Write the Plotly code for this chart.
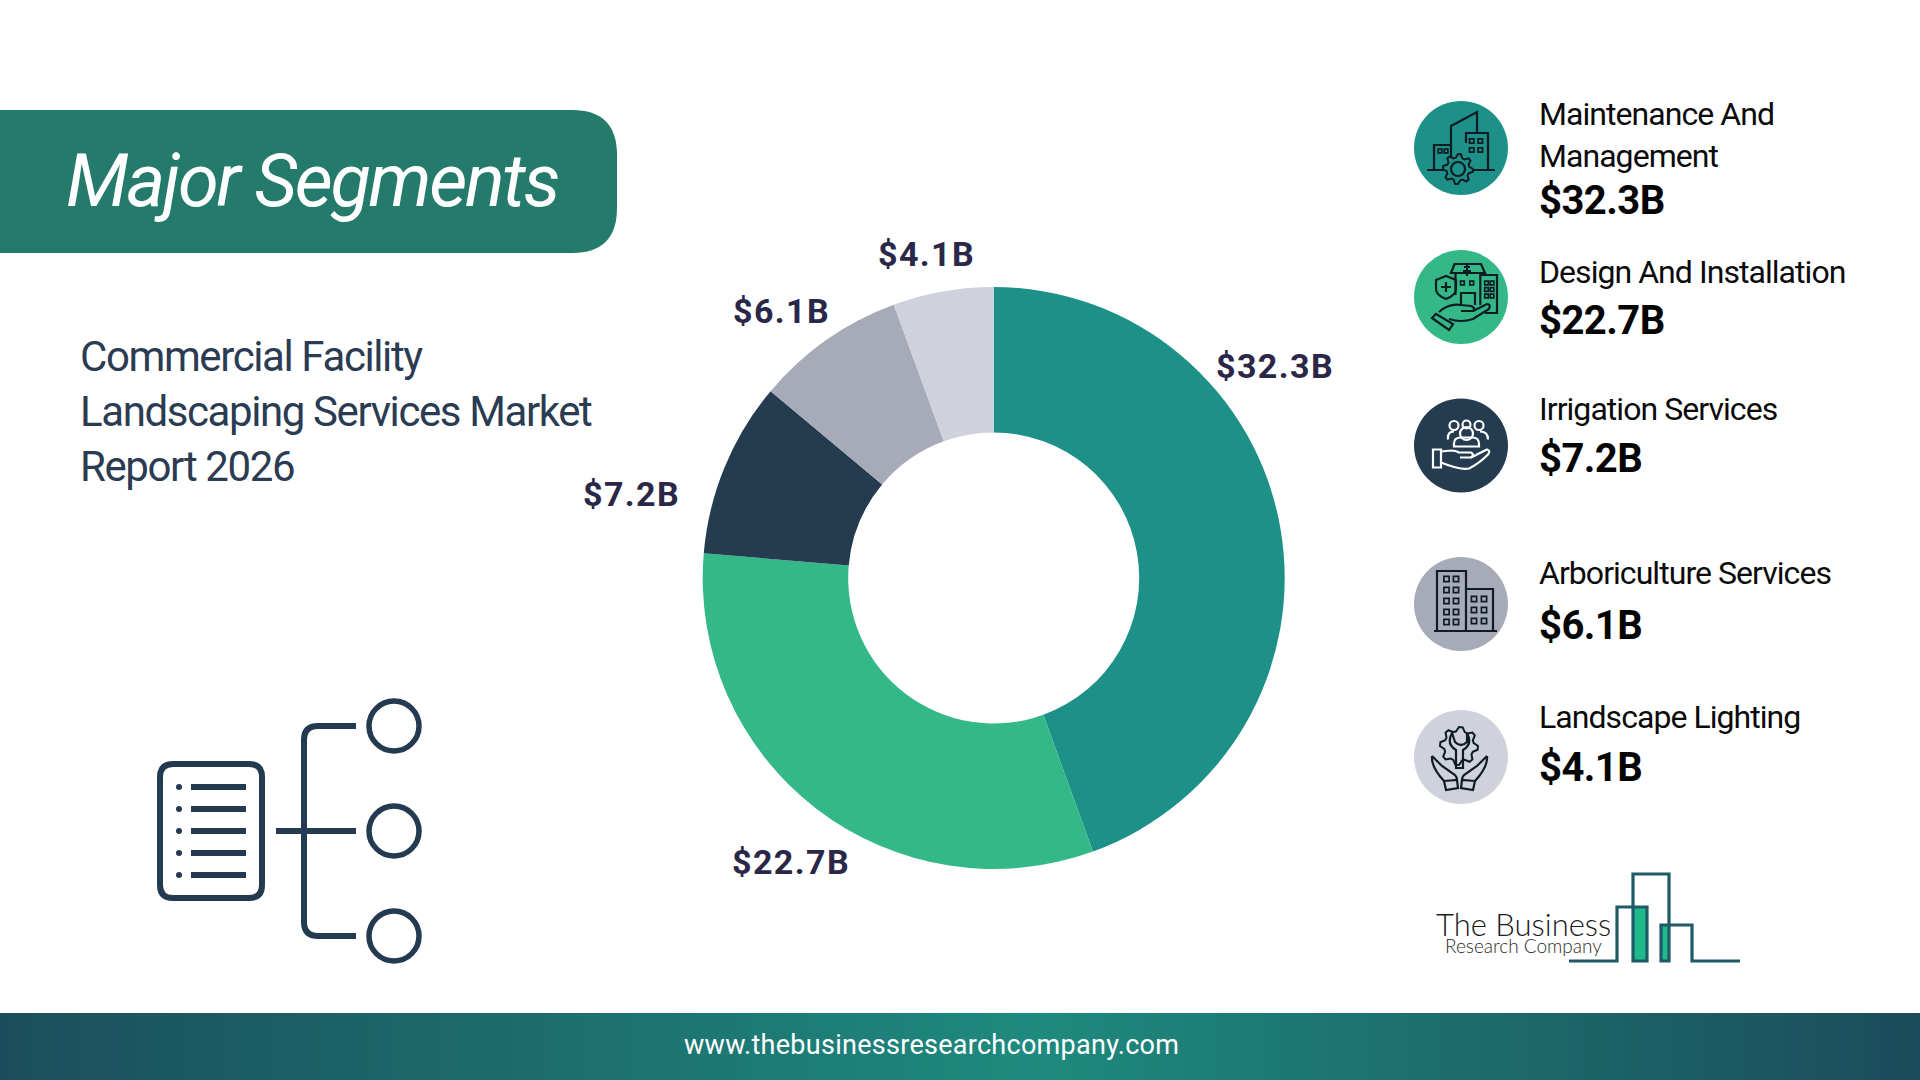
import math
import plotly.graph_objects as go

# Segment data
segments = ["Maintenance And<br>Management", "Design And Installation", "Irrigation Services",
            "Arboriculture Services", "Landscape Lighting"]
value_labels = ["$32.3B", "$22.7B", "$7.2B", "$6.1B", "$4.1B"]
# slice sizes, the drawn angles differ a little from the printed labels
slice_sizes = [32.2, 23.1, 7.05, 6.03, 4.04]
colors = ["#1d9087", "#34b888", "#243b50", "#a6abb7", "#cfd1dc"]

title_text = "Major Segments"
subtitle_lines = ["Commercial Facility", "Landscaping Services Market", "Report 2026"]
footer_text = "www.thebusinessresearchcompany.com"

NAVY = "#233a50"
INK = "#0f1c24"

shapes = []
annotations = []


def add_text(x, baseline, s, size, color, weight=400, spacing=0, anchor="left", style="normal", family="Roboto"):
    # y given as text baseline, in page pixels
    annotations.append(dict(
        x=x, y=baseline - 0.927 * size, xref="x", yref="y", xanchor=anchor, yanchor="top", align=anchor,
        text=f'<span style="letter-spacing:{spacing}px">{s}</span>', showarrow=False, borderpad=0,
        font=dict(family=family, size=size, color=color, weight=weight, style=style)))


def add_path(path, color, width=2.2, fill=None):
    shapes.append(dict(type="path", path=path, xref="x", yref="y", layer="above",
                       line=dict(color=color, width=width), fillcolor=fill or "rgba(0,0,0,0)"))


def add_circle(cx, cy, r, color=None, fill=None, width=2.2):
    shapes.append(dict(type="circle", x0=cx - r, x1=cx + r, y0=cy - r, y1=cy + r, xref="x", yref="y", layer="above",
                       line=dict(color=color or "rgba(0,0,0,0)", width=width if color else 0),
                       fillcolor=fill or "rgba(0,0,0,0)"))


def rrect(x0, y0, x1, y1, r):
    return (f"M{x0 + r},{y0} L{x1 - r},{y0} Q{x1},{y0} {x1},{y0 + r} L{x1},{y1 - r} Q{x1},{y1} {x1 - r},{y1} "
            f"L{x0 + r},{y1} Q{x0},{y1} {x0},{y1 - r} L{x0},{y0 + r} Q{x0},{y0} {x0 + r},{y0} Z")


def rel(cx, cy, cmds):
    # cmds like "M -3 4 L 5 6 Q 1 2 3 4", relative to a circle centre
    out = []
    nums = []
    for tok in cmds.split():
        if tok.isalpha():
            out.append(tok)
            nums = []
        else:
            nums.append(float(tok))
            if len(nums) == 2:
                out.append(f"{cx + nums[0]},{cy + nums[1]}")
                nums = []
    return " ".join(out)


def squares(cx, cy, xs, ys, s, color):
    for x in xs:
        for y in ys:
            add_path(rel(cx, cy, f"M {x - s} {y - s} L {x + s} {y - s} L {x + s} {y + s} L {x - s} {y + s} Z"), color, 1.7)


def gear(cx, cy, r_out, r_in, teeth, color, fill):
    pts = []
    for i in range(teeth * 4):
        a = 2 * math.pi * i / (teeth * 4)
        r = r_out if i % 4 in (0, 1) else r_in
        pts.append(f"{cx + r * math.cos(a)},{cy + r * math.sin(a)}")
    add_path("M" + " L".join(pts) + " Z", color, 2, fill)


# Banner and left-hand text
shapes.append(dict(type="path", xref="x", yref="y", layer="below", fillcolor="#247b6b", line=dict(width=0),
                   path="M0,110 L572,110 Q617,110 617,155 L617,208 Q617,253 572,253 L0,253 Z"))
add_text(65, 205, title_text, 74, "white", weight=400, spacing=-2.3, style="italic")
for line, base in zip(subtitle_lines, [370, 425, 480]):
    add_text(79, base, line, 42, "#2a3b52", weight=400, spacing=-1.4)

# Tree icon, lower left
add_path(rrect(160, 764, 262, 898, 13), NAVY, 6)
for y in [787, 809, 831, 853, 875]:
    add_circle(179, y, 3, fill=NAVY)
    shapes.append(dict(type="line", x0=191, x1=246, y0=y, y1=y, xref="x", yref="y", layer="above",
                       line=dict(color=NAVY, width=6)))
shapes.append(dict(type="line", x0=276, x1=356, y0=831, y1=831, xref="x", yref="y", layer="above",
                   line=dict(color=NAVY, width=6)))
add_path("M356,726 L318,726 Q304,726 304,740 L304,922 Q304,936 318,936 L356,936", NAVY, 6)
for y in [726, 831, 936]:
    add_circle(394, y, 25, color=NAVY, width=5.5)

# Donut value labels, placed by hand as in the original slide
label_pos = [(1275, 377), (791, 873), (631, 505), (781, 322), (926, 265)]
for lab, (x, base) in zip(value_labels, label_pos):
    add_text(x, base, lab, 34, "#2a2748", weight=700, spacing=1.4, anchor="center")

# Right-hand legend
circle_x = 1461
circle_y = [148, 297, 445.5, 604, 757]
name_base = [(124, 166), (282,), (419,), (583,), (727,)]
value_base = [213, 333, 471, 638, 780]
for i, seg in enumerate(segments):
    add_circle(circle_x, circle_y[i], 47, fill=colors[i])
    for part, base in zip(seg.split("<br>"), name_base[i]):
        add_text(1538, base, part, 32, "#0b0b0b", weight=400, spacing=-0.95)
    add_text(1538, value_base[i], value_labels[i], 40, "#050505", weight=700, spacing=-0.55)

# Icon 1: buildings with gear
cx, cy = circle_x, circle_y[0]
for p in ["M -34 22 L 34 22", "M -27 22 L -27 -3 L -10 -3", "M -10 12 L -10 -22 L 16 -36 L 16 -15",
          "M 5 -5 L 5 -15 L 27 -15 L 27 22"]:
    add_path(rel(cx, cy, p), INK)
squares(cx, cy, [-21, -15], [3], 1.8, INK)
squares(cx, cy, [10.7, 19.3], [-7, 2], 2.2, INK)
gear(cx - 3, cy + 21, 15, 11.5, 8, INK, colors[0])
add_circle(cx - 3, cy + 21, 7, color=INK)

# Icon 2: hospital on a hand
cx, cy = circle_x, circle_y[1]
for p in ["M -10 -24 L -6.5 -33 L 20 -33 L 24 -24 Z", "M -5.5 -24 L -5.5 -2", "M 19.3 -24 L 19.3 8",
          "M 0 8 L 0 -4 L 14 -4 L 14 8", "M 20 -22 L 36 -22 L 36 16 L 24 16", "M 3 -30 L 9 -30 M 6 -33 L 6 -21 M 2 -26 L 10 -26",
          "M -15 -21 L -25 -17 L -25 -8 Q -25 -2 -15 2 Q -5 -2 -5 -8 L -5 -17 Z",
          "M -15 -15 L -15 -5 M -20 -10 L -10 -10",
          "M -29 21 L -25 17 L -8 27 L -12 33 Z",
          "M -22 15 Q -12 6 0 8 L 10 9 Q 15 11 12 14 L 0 14",
          "M 12 14 L 26 7 Q 30 7 28 12 L 12 22 Q 0 26 -12 22"]:
    add_path(rel(cx, cy, p), INK)
squares(cx, cy, [1.4, 10.7], [-14], 1.9, INK)
squares(cx, cy, [25.5, 31], [-14, -7.5, -1], 1.8, INK)

# Icon 3: people over a hand, white
cx, cy = circle_x, circle_y[2]
for hx, hy, r in [(-7, -20, 4.5), (18, -20, 4.5), (5.5, -21, 4), (5.5, -12, 6.5)]:
    add_circle(cx + hx, cy + hy, r, color="white")
for p in ["M -7 1 L -7 -2 Q -7 -8 0 -8 L 11 -8 Q 18 -8 18 -2 L 18 1 Z",
          "M -13 -6 Q -14 -14 -7 -14", "M 27 -6 Q 27 -14 19 -14",
          "M -28 4 L -20 4 L -20 22 L -28 22 Z",
          "M -20 6 L -10 5 Q -5 5 -2 7 L 10 7 Q 14 9 10 12 L -1 12",
          "M 10 12 L 26 4 Q 30 5 27 9 Q 18 18 8 23 Q 0 25 -20 17"]:
    add_path(rel(cx, cy, p), "white")

# Icon 4: office blocks
cx, cy = circle_x, circle_y[3]
for p in ["M -24 27 L -24 -33 L 5 -33 L 5 27", "M 5 -15 L 32 -15 L 32 27", "M -27 27 L 36 27"]:
    add_path(rel(cx, cy, p), INK)
squares(cx, cy, [-14.5, -5], [-25, -14, -3, 8, 18], 2.6, INK)
squares(cx, cy, [13, 23], [-5, 6, 17], 2.6, INK)

# Icon 5: hands holding a wrench and gear
cx, cy = circle_x, circle_y[4]
gear(cx - 2, cy - 11, 19, 15, 8, INK, colors[4])
for p in ["M -9 -24 Q -15 -13 -5 -7 L -5 11 L 2 11 L 2 -7 Q 12 -13 6 -24 L 6 -15 Q 0 -9 -6 -15 Z",
          "M -29 -1 Q -30 10 -17 24 M -29 -1 L -19 9 L -6 18 Q -4 20 -4 23",
          "M -17 24 L -4 23 L -3 31 L -15 33 Z",
          "M 26 -1 Q 27 10 14 24 M 26 -1 L 16 9 L 3 18 Q 1 20 1 23",
          "M 14 24 L 1 23 L 0 31 L 12 33 Z"]:
    add_path(rel(cx, cy, p), INK)

# Logo, lower right
TEAL_LINE = "#1f5a66"
shapes.append(dict(type="rect", x0=1633, x1=1647, y0=907, y1=961, xref="x", yref="y", layer="above",
                   fillcolor="#1fb98a", line=dict(width=0)))
shapes.append(dict(type="rect", x0=1661, x1=1669, y0=925, y1=961, xref="x", yref="y", layer="above",
                   fillcolor="#1fb98a", line=dict(width=0)))
add_path("M1569,961 L1617,961 L1617,907 L1647,907 L1647,961 L1633,961 L1633,874 L1669,874 L1669,961 "
         "L1661,961 L1661,925 L1692,925 L1692,961 L1740,961", TEAL_LINE, 3.2)
add_text(1435, 933, "The Business", 31, "#1b1b1b", weight=300, family="Lato")
add_text(1444, 951, "Research Company", 19, "#2a2a2a", weight=300, family="Lato")

# Footer
add_text(931, 1053, footer_text, 27, "white", weight=400, spacing=0.28, anchor="center")

footer_cols = list(range(0, 1921, 10))
footer_stops = [[0, "#1b4e5c"], [0.54, "#1e8a7e"], [1, "#1b4c5b"]]

fig = go.Figure()
fig.add_trace(go.Heatmap(x=footer_cols, y=[1013, 1080], z=[footer_cols[:-1]], colorscale=footer_stops,
                         showscale=False, hoverinfo="skip"))
fig.add_trace(go.Pie(labels=[s.replace("<br>", " ") for s in segments], values=slice_sizes, hole=0.5, sort=False,
                     direction="clockwise", rotation=0, marker=dict(colors=colors, line=dict(width=0)),
                     textinfo="none", showlegend=False,
                     domain=dict(x=[(993.7 - 291) / 1920, (993.7 + 291) / 1920],
                                 y=[1 - (578 + 291) / 1080, 1 - (578 - 291) / 1080])))
fig.update_layout(width=1920, height=1080, margin=dict(l=0, r=0, t=0, b=0), paper_bgcolor="white",
                  plot_bgcolor="white", showlegend=False, shapes=shapes, annotations=annotations,
                  xaxis=dict(range=[0, 1920], visible=False, fixedrange=True),
                  yaxis=dict(range=[1080, 0], visible=False, fixedrange=True))

fig.write_html("out.html", config=dict(displayModeBar=False), post_script="document.body.style.margin='0';")
